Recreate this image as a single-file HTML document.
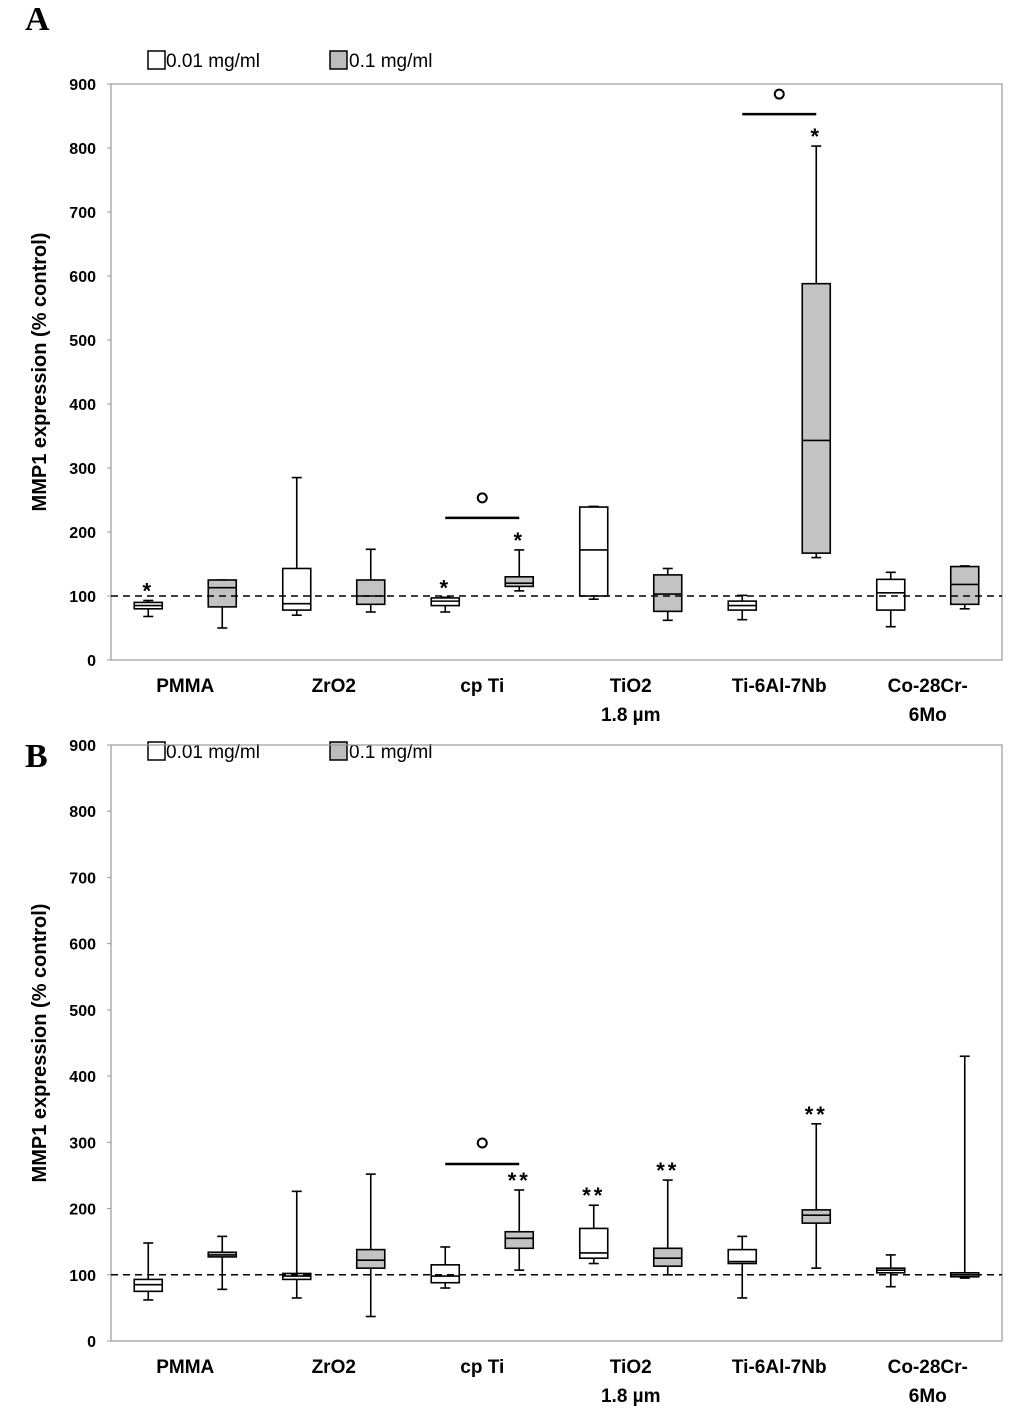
<!DOCTYPE html>
<html><head><meta charset="utf-8"><style>
body{margin:0;background:#fff;}
svg text{font-family:"Liberation Sans",sans-serif;}
svg text.serif{font-family:"Liberation Serif",serif;}
</style></head><body>
<svg id="chart" width="1033" height="1415" xmlns="http://www.w3.org/2000/svg"></svg>
<script>
const categories=["PMMA","ZrO2","cp Ti","TiO2|1.8 µm","Ti-6Al-7Nb","Co-28Cr-|6Mo"];
const yTicks=[0,100,200,300,400,500,600,700,800,900];
// [min,q1,median,q3,max]
const aLow=[[68,80,85,90,93],[70,78,88,143,285],[75,85,92,97,98],[95,100,172,239,240],[63,78,85,92,101],[52,78,105,126,137]];
const aHigh=[[50,83,113,125,125],[75,87,100,125,173],[108,115,120,130,172],[62,76,103,133,143],[160,167,343,588,803],[80,87,118,146,147]];
const bLow=[[62,75,85,93,148],[65,93,98,102,226],[80,88,98,115,142],[117,125,133,170,205],[65,117,120,138,158],[82,103,107,110,130]];
const bHigh=[[78,127,130,134,158],[37,110,122,138,252],[107,140,155,165,228],[100,113,125,140,243],[110,178,190,198,328],[95,97,100,103,430]];
// annotations: [categoryIndex, series(0/1), label]
const aStars=[[0,0,"*"],[2,0,"*"],[2,1,"*"],[4,1,"*"]];
const bStars=[[2,1,"**"],[3,0,"**"],[3,1,"**"],[4,1,"**"]];
const aSig=[2,4]; const bSig=[2];

const NS="http://www.w3.org/2000/svg";
const svg=document.getElementById('chart');
function mk(tag,attrs,parent,text){const e=document.createElementNS(NS,tag);for(const k in attrs)e.setAttribute(k,attrs[k]);if(text!==undefined)e.textContent=text;(parent||svg).appendChild(e);return e;}

function panel(letter,letterY,top,bottom,low,high,stars,sig,legY,sigOff,circOff){
  const L=111,R=1002;
  const g=mk('g',{});
  
  
  const y=v=>bottom-(v/900)*(bottom-top);
  const cw=(R-L)/categories.length;
  const xc=(i,s)=>L+cw*i+cw/2+(s?37:-37);
  const t=mk('text',{x:25,y:letterY,'font-size':34,'font-weight':'bold','class':'serif'},g,letter);
  
  const l1=mk('rect',{x:148,y:legY-9,width:17,height:18,fill:'#fff',stroke:'#000','stroke-width':1.5},g);
  
  const lt1=mk('text',{x:166,y:legY+7,'font-size':19},g,'0.01 mg/ml');
  
  const l2=mk('rect',{x:330,y:legY-9,width:17,height:18,fill:'#bdbdbd',stroke:'#000','stroke-width':1.5},g);
  
  const lt2=mk('text',{x:349,y:legY+7,'font-size':19},g,'0.1 mg/ml');
  
  const fr=mk('rect',{x:L,y:top,width:R-L,height:bottom-top,fill:'none',stroke:'#999','stroke-width':1.2},g);
  
  yTicks.forEach(v=>{
    const tl=mk('text',{x:96,y:y(v)+6,'font-size':16,'font-weight':'bold','text-anchor':'end'},g,String(v));
    
    mk('line',{x1:L-4,x2:L,y1:y(v),y2:y(v),stroke:'#999'},g);
  });
  const yt=mk('text',{transform:`translate(46,${(top+bottom)/2}) rotate(-90)`,'font-size':20,'font-weight':'bold','text-anchor':'middle'},g,'MMP1 expression (% control)');
  
  categories.forEach((c,i)=>{
    const parts=c.split('|');
    parts.forEach((p,k)=>{
      const ct=mk('text',{x:L+cw*i+cw/2,y:bottom+32+k*29,'font-size':19,'font-weight':'bold','text-anchor':'middle'},g,p);
      
    });
  });
  const ref=mk('line',{x1:L,x2:R,y1:y(100),y2:y(100),stroke:'#000','stroke-width':1.5,'stroke-dasharray':'7,5'},g);
  
  function box(d,i,s){
    const x=xc(i,s),w=28;
    const bg=mk('g',{},g);
    
    mk('line',{x1:x,x2:x,y1:y(d[0]),y2:y(d[4]),stroke:'#000','stroke-width':1.6},bg);
    mk('line',{x1:x-5,x2:x+5,y1:y(d[0]),y2:y(d[0]),stroke:'#000','stroke-width':1.6},bg);
    mk('line',{x1:x-5,x2:x+5,y1:y(d[4]),y2:y(d[4]),stroke:'#000','stroke-width':1.6},bg);
    mk('rect',{x:x-w/2,y:y(d[3]),width:w,height:Math.max(2,y(d[1])-y(d[3])),fill:s?'#c3c3c3':'#fff',stroke:'#000','stroke-width':1.6},bg);
    mk('line',{x1:x-w/2,x2:x+w/2,y1:y(d[2]),y2:y(d[2]),stroke:'#000','stroke-width':1.6},bg);
  }
  low.forEach((d,i)=>box(d,i,0));high.forEach((d,i)=>box(d,i,1));
  g.appendChild(ref);
  stars.forEach(([i,s,lab])=>{
    const d=(s?high:low)[i];
    const st=mk('text',{x:xc(i,s),y:y(d[4])-2,'font-size':22,'font-weight':'bold','text-anchor':'middle','letter-spacing':3},g,lab);
    
  });
  sig.forEach(i=>{
    const top2=Math.max(high[i][4],low[i][4]);
    const yy=y(top2)-sigOff;
    const ln=mk('line',{x1:xc(i,0),x2:xc(i,1),y1:yy,y2:yy,stroke:'#000','stroke-width':2.5},g);
    
    const c=mk('circle',{cx:L+cw*i+cw/2,cy:yy-circOff,r:4.5,fill:'none',stroke:'#000','stroke-width':2},g);
    
  });
}
panel('A',30,84,660,aLow,aHigh,aStars,aSig,60,32,20);
panel('B',767,745,1341,bLow,bHigh,bStars,bSig,751,26,21);
</script>
</body></html>
